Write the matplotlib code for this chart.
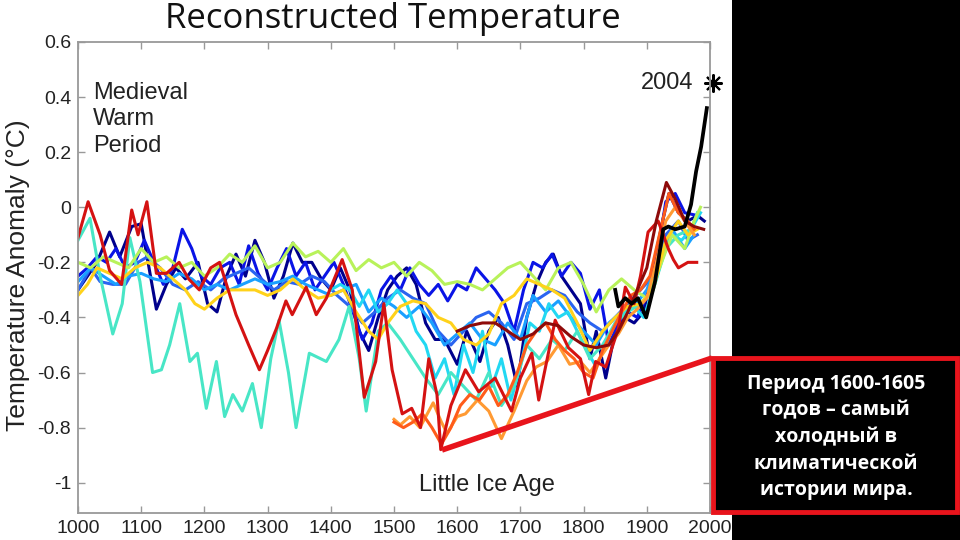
import matplotlib
matplotlib.use('Agg')
import matplotlib.pyplot as plt
from matplotlib.patches import Rectangle
from matplotlib.lines import Line2D

plt.rcParams['font.family'] = ['Liberation Sans', 'DejaVu Sans']

# --- reconstructions (year, anomaly in degC) ---
navy_yr = [1000, 1015, 1030, 1050, 1066, 1085, 1100, 1124, 1140, 1155, 1170, 1190, 1205, 1220,
           1235, 1250, 1265, 1280, 1295, 1310, 1325, 1340, 1355, 1370, 1385, 1400, 1415, 1430,
           1445, 1460, 1475, 1490, 1505, 1520, 1535, 1550, 1565, 1580, 1600, 1615, 1636, 1650,
           1665, 1680, 1695, 1710, 1725, 1740, 1752, 1765, 1780, 1795, 1810, 1820, 1835, 1850,
           1865, 1880, 1895, 1910, 1925, 1935, 1950, 1965, 1980, 1991]
navy_val = [-0.30, -0.25, -0.20, -0.09, -0.18, -0.07, -0.06, -0.37, -0.28, -0.22, -0.26, -0.20,
            -0.35, -0.38, -0.25, -0.17, -0.25, -0.12, -0.20, -0.33, -0.25, -0.13, -0.20, -0.20,
            -0.26, -0.30, -0.22, -0.30, -0.45, -0.52, -0.40, -0.30, -0.25, -0.22, -0.28, -0.42,
            -0.48, -0.48, -0.57, -0.45, -0.56, -0.45, -0.40, -0.50, -0.65, -0.40, -0.28, -0.20,
            -0.17, -0.25, -0.30, -0.35, -0.55, -0.45, -0.62, -0.45, -0.40, -0.42, -0.38, -0.22,
            -0.05, 0.05, -0.02, -0.05, -0.03, -0.05]

blue_yr = [1000, 1015, 1030, 1045, 1060, 1075, 1090, 1105, 1120, 1135, 1150, 1165, 1180, 1195,
           1210, 1225, 1240, 1255, 1270, 1285, 1300, 1315, 1330, 1345, 1360, 1375, 1390, 1405,
           1420, 1435, 1450, 1465, 1480, 1495, 1510, 1525, 1540, 1555, 1570, 1585, 1600, 1615,
           1630, 1645, 1660, 1675, 1690, 1705, 1720, 1735, 1750, 1765, 1780, 1795, 1810, 1825,
           1840, 1855, 1870, 1885, 1900, 1915, 1930, 1945, 1960, 1980]
blue_val = [-0.25, -0.22, -0.18, -0.20, -0.15, -0.22, -0.20, -0.12, -0.20, -0.28, -0.22, -0.08,
            -0.15, -0.25, -0.28, -0.22, -0.20, -0.28, -0.14, -0.24, -0.30, -0.22, -0.15, -0.25,
            -0.20, -0.30, -0.25, -0.20, -0.28, -0.38, -0.48, -0.42, -0.30, -0.25, -0.30, -0.22,
            -0.28, -0.32, -0.28, -0.34, -0.28, -0.30, -0.22, -0.26, -0.30, -0.35, -0.45, -0.30,
            -0.20, -0.22, -0.17, -0.25, -0.20, -0.24, -0.37, -0.30, -0.50, -0.42, -0.38, -0.40,
            -0.32, -0.20, 0.02, 0.05, -0.02, -0.03]

mid_yr = [1000, 1020, 1035, 1055, 1075, 1095, 1110, 1130, 1150, 1170, 1190, 1210, 1230, 1250,
          1270, 1290, 1310, 1330, 1350, 1370, 1390, 1410, 1430, 1450, 1470, 1490, 1510, 1530,
          1550, 1570, 1590, 1610, 1630, 1650, 1670, 1690, 1710, 1730, 1750, 1770, 1790, 1810,
          1830, 1850, 1870, 1890, 1910, 1930, 1950, 1965, 1980]
mid_val = [-0.30, -0.22, -0.27, -0.28, -0.28, -0.20, -0.18, -0.22, -0.28, -0.30, -0.27, -0.30,
           -0.26, -0.24, -0.22, -0.26, -0.30, -0.27, -0.28, -0.25, -0.27, -0.32, -0.36, -0.42,
           -0.38, -0.33, -0.30, -0.33, -0.35, -0.45, -0.50, -0.45, -0.40, -0.38, -0.42, -0.48,
           -0.35, -0.33, -0.30, -0.32, -0.38, -0.42, -0.45, -0.40, -0.35, -0.30, -0.25, -0.10,
           -0.05, -0.12, -0.10]

sky_yr = [1000, 1020, 1040, 1060, 1080, 1100, 1120, 1140, 1160, 1180, 1200, 1220, 1240, 1260,
          1280, 1300, 1320, 1340, 1360, 1380, 1400, 1420, 1440, 1460, 1480, 1500, 1520, 1540,
          1560, 1580, 1600, 1620, 1640, 1660, 1680, 1700, 1720, 1740, 1760, 1780, 1800, 1820,
          1840, 1860, 1880, 1900, 1920, 1940, 1960, 1975]
sky_val = [-0.27, -0.22, -0.25, -0.28, -0.25, -0.24, -0.26, -0.27, -0.24, -0.26, -0.30, -0.28,
           -0.30, -0.28, -0.26, -0.28, -0.27, -0.25, -0.28, -0.30, -0.32, -0.30, -0.28, -0.38,
           -0.33, -0.36, -0.40, -0.36, -0.42, -0.50, -0.46, -0.42, -0.48, -0.50, -0.42, -0.48,
           -0.32, -0.38, -0.34, -0.40, -0.45, -0.50, -0.42, -0.38, -0.36, -0.30, -0.18, -0.08,
           -0.15, -0.10]

cyan_yr = [1400, 1415, 1430, 1445, 1460, 1475, 1490, 1505, 1520, 1535, 1550, 1565, 1580, 1595,
           1610, 1625, 1640, 1655, 1670, 1685, 1700, 1715, 1730, 1745, 1760, 1775, 1790, 1805,
           1820, 1835, 1850, 1865, 1880, 1895, 1910, 1925, 1940, 1955, 1970, 1985]
cyan_val = [-0.30, -0.28, -0.30, -0.36, -0.30, -0.38, -0.35, -0.30, -0.35, -0.45, -0.50, -0.62,
            -0.55, -0.68, -0.50, -0.60, -0.45, -0.65, -0.55, -0.70, -0.58, -0.42, -0.45, -0.35,
            -0.40, -0.38, -0.45, -0.52, -0.58, -0.50, -0.42, -0.38, -0.36, -0.40, -0.30, -0.18,
            -0.10, -0.12, -0.08, -0.02]

turq_yr = [1000, 1019, 1035, 1055, 1070, 1082, 1098, 1118, 1132, 1145, 1161, 1177, 1189, 1203,
           1219, 1232, 1245, 1260, 1276, 1290, 1305, 1318, 1333, 1345, 1366, 1393, 1413, 1429,
           1445, 1456, 1475, 1490, 1510, 1530, 1550, 1570, 1590, 1610, 1630, 1650, 1670, 1690,
           1710, 1730, 1750, 1770, 1790, 1810, 1830, 1850, 1870, 1890, 1910, 1930, 1950, 1970,
           1980]
turq_val = [-0.12, -0.04, -0.25, -0.46, -0.35, -0.11, -0.27, -0.60, -0.59, -0.50, -0.35, -0.56,
            -0.53, -0.73, -0.56, -0.76, -0.68, -0.74, -0.64, -0.80, -0.55, -0.41, -0.60, -0.80,
            -0.53, -0.56, -0.48, -0.36, -0.55, -0.74, -0.45, -0.42, -0.48, -0.55, -0.62, -0.68,
            -0.60, -0.65, -0.70, -0.60, -0.72, -0.65, -0.50, -0.55, -0.48, -0.52, -0.45, -0.55,
            -0.50, -0.42, -0.38, -0.35, -0.30, -0.15, -0.10, -0.08, -0.02]

lime_yr = [1000, 1020, 1040, 1060, 1080, 1100, 1120, 1140, 1160, 1180, 1200, 1220, 1240, 1260,
           1280, 1300, 1320, 1340, 1360, 1380, 1400, 1420, 1440, 1460, 1480, 1500, 1520, 1540,
           1560, 1580, 1600, 1620, 1640, 1660, 1680, 1700, 1720, 1740, 1760, 1780, 1800, 1820,
           1840, 1860, 1880, 1900, 1920, 1940, 1960, 1975, 1985]
lime_val = [-0.20, -0.22, -0.18, -0.20, -0.22, -0.15, -0.20, -0.18, -0.22, -0.20, -0.25, -0.22,
            -0.17, -0.20, -0.14, -0.22, -0.20, -0.13, -0.18, -0.16, -0.20, -0.15, -0.23, -0.19,
            -0.22, -0.20, -0.25, -0.20, -0.23, -0.28, -0.27, -0.28, -0.30, -0.26, -0.22, -0.20,
            -0.25, -0.30, -0.22, -0.20, -0.28, -0.38, -0.30, -0.26, -0.30, -0.33, -0.22, -0.10,
            -0.15, -0.05, 0.00]

yellow_yr = [1000, 1015, 1030, 1050, 1070, 1090, 1110, 1130, 1150, 1170, 1185, 1200, 1220, 1240,
             1260, 1280, 1300, 1320, 1340, 1360, 1380, 1400, 1420, 1440, 1460, 1475, 1490, 1510,
             1530, 1550, 1570, 1590, 1610, 1630, 1650, 1670, 1690, 1710, 1730, 1750, 1770, 1790,
             1810, 1830, 1850, 1870, 1890, 1910, 1930, 1950, 1965, 1980]
yellow_val = [-0.32, -0.28, -0.22, -0.24, -0.26, -0.22, -0.20, -0.22, -0.26, -0.30, -0.35, -0.37,
              -0.33, -0.30, -0.30, -0.30, -0.32, -0.30, -0.26, -0.30, -0.33, -0.32, -0.30, -0.38,
              -0.45, -0.48, -0.42, -0.36, -0.34, -0.35, -0.40, -0.42, -0.48, -0.50, -0.46, -0.35,
              -0.32, -0.26, -0.28, -0.30, -0.33, -0.42, -0.52, -0.45, -0.40, -0.36, -0.35, -0.30,
              -0.12, -0.05, -0.10, -0.08]

orange_yr = [1500, 1510, 1525, 1541, 1562, 1575, 1584, 1600, 1613, 1632, 1650, 1670, 1690, 1710,
             1725, 1742, 1760, 1778, 1795, 1810, 1825, 1840, 1855, 1870, 1885, 1900, 1915, 1930,
             1945, 1960, 1975]
orange_val = [-0.77, -0.79, -0.76, -0.80, -0.71, -0.78, -0.82, -0.76, -0.75, -0.70, -0.74, -0.84,
              -0.74, -0.63, -0.58, -0.56, -0.50, -0.57, -0.56, -0.60, -0.55, -0.50, -0.46, -0.40,
              -0.37, -0.33, -0.20, -0.05, 0.00, -0.05, -0.10]

ored_yr = [1500, 1515, 1530, 1545, 1560, 1575, 1590, 1605, 1620, 1635, 1650, 1665, 1680, 1695,
           1710, 1725, 1740, 1755, 1770, 1785, 1800, 1815, 1830, 1845, 1860, 1875, 1890, 1905,
           1920, 1935, 1950, 1965, 1975]
ored_val = [-0.78, -0.80, -0.78, -0.75, -0.80, -0.86, -0.80, -0.72, -0.68, -0.70, -0.65, -0.72,
            -0.68, -0.60, -0.50, -0.45, -0.42, -0.48, -0.52, -0.55, -0.60, -0.62, -0.52, -0.45,
            -0.38, -0.32, -0.30, -0.25, -0.10, 0.05, -0.02, -0.05, -0.08]

red_yr = [1000, 1016, 1035, 1050, 1069, 1085, 1095, 1109, 1124, 1140, 1160, 1175, 1192, 1210,
          1224, 1250, 1270, 1287, 1300, 1314, 1329, 1339, 1361, 1377, 1393, 1418, 1434, 1453,
          1471, 1484, 1497, 1513, 1528, 1542, 1555, 1568, 1574, 1590, 1613, 1634, 1660, 1686,
          1700, 1718, 1729, 1755, 1776, 1795, 1808, 1819, 1835, 1855, 1866, 1880, 1890, 1902,
          1918, 1934, 1942, 1950, 1965, 1979]
red_val = [-0.11, 0.02, -0.10, -0.23, -0.28, -0.01, -0.10, 0.02, -0.24, -0.24, -0.20, -0.26,
           -0.30, -0.22, -0.20, -0.39, -0.50, -0.59, -0.52, -0.44, -0.34, -0.39, -0.29, -0.39,
           -0.33, -0.19, -0.30, -0.69, -0.56, -0.35, -0.59, -0.75, -0.73, -0.80, -0.55, -0.68,
           -0.88, -0.72, -0.59, -0.67, -0.62, -0.74, -0.62, -0.53, -0.70, -0.41, -0.51, -0.55,
           -0.68, -0.56, -0.58, -0.44, -0.29, -0.35, -0.25, -0.09, -0.05, -0.15, -0.19, -0.22,
           -0.20, -0.20]

dred_yr = [1600, 1620, 1640, 1660, 1680, 1700, 1720, 1740, 1760, 1780, 1800, 1820, 1840, 1855,
           1870, 1885, 1900, 1915, 1931, 1945, 1960, 1975, 1990]
dred_val = [-0.45, -0.43, -0.42, -0.42, -0.45, -0.48, -0.46, -0.42, -0.43, -0.47, -0.50, -0.51,
            -0.50, -0.45, -0.38, -0.30, -0.22, -0.05, 0.09, 0.03, -0.05, -0.07, -0.08]

# instrumental record
inst_yr = [1850, 1855, 1866, 1876, 1886, 1899, 1913, 1926, 1934, 1945, 1960, 1970, 1978, 1986,
           1995]
inst_val = [-0.30, -0.36, -0.33, -0.35, -0.33, -0.40, -0.27, -0.08, -0.07, -0.08, -0.07, 0.01,
            0.13, 0.22, 0.36]

series = [
    (navy_yr, navy_val, '#00008c'),
    (blue_yr, blue_val, '#0a14e6'),
    (mid_yr, mid_val, '#2a64f0'),
    (sky_yr, sky_val, '#1aa0ff'),
    (cyan_yr, cyan_val, '#22d8f2'),
    (turq_yr, turq_val, '#48e6c6'),
    (lime_yr, lime_val, '#b8f25a'),
    (yellow_yr, yellow_val, '#ffd21a'),
    (orange_yr, orange_val, '#ff9a33'),
    (ored_yr, ored_val, '#ff5c1a'),
    (red_yr, red_val, '#d41212'),
    (dred_yr, dred_val, '#8e0a0a'),
    (inst_yr, inst_val, '#000000'),
]

fig = plt.figure(figsize=(9.6, 5.4), dpi=100)
fig.patch.set_facecolor('white')
ax = fig.add_axes([78 / 960, 1 - 513 / 540, (710 - 78) / 960, (513 - 42) / 540])

for yr, val, col in series:
    lw = 2.7 if col == '#000000' else 2.2
    ax.plot(yr, val, color=col, lw=lw, solid_joinstyle='round')

ax.plot([2004], [0.45], marker=(8, 2, 0), ms=13, mew=1.5, color='black', clip_on=False)
ax.annotate('2004', xy=(2004, 0.45), xytext=(-14, 0), textcoords='offset points',
            ha='right', va='center', fontsize=17, color='#222222', annotation_clip=False)

ax.set_xlim(1000, 2000)
ax.set_ylim(-1.11, 0.6)
ax.set_xticks(range(1000, 2001, 100))
ax.set_yticks([-1, -0.8, -0.6, -0.4, -0.2, 0, 0.2, 0.4, 0.6])
ax.set_yticklabels(['-1', '-0.8', '-0.6', '-0.4', '-0.2', '0', '0.2', '0.4', '0.6'])
ax.tick_params(direction='in', top=True, right=True, length=5, width=1,
               color='#999999', labelsize=14, labelcolor='#222222', pad=5)
for sp in ax.spines.values():
    sp.set_color('#999999')
    sp.set_linewidth(1.3)

ax.text(0.024, 0.915, 'Medieval\nWarm\nPeriod', transform=ax.transAxes, ha='left', va='top',
        fontsize=17, linespacing=1.25, color='#222222')
ax.text(1647, -1.01, 'Little Ice Age', ha='center', va='center', fontsize=17, color='#222222')

fig.text(18 / 960, 1 - 275 / 540, 'Temperature Anomaly (°C)', rotation=90,
         ha='center', va='center', fontsize=19, color='#222222')
fig.text(393 / 960, 1 - 19 / 540, 'Reconstructed Temperature', ha='center', va='center',
         fontsize=25, family=['Open Sans', 'DejaVu Sans'], color='#111111')

# dark side panel with the note
fig.add_artist(Rectangle((732 / 960, 0), 1 - 732 / 960, 1, transform=fig.transFigure,
                         facecolor='black', edgecolor='none', zorder=2))
fig.add_artist(Line2D([442 / 960, 712 / 960], [1 - 450 / 540, 1 - 358 / 540],
                      transform=fig.transFigure, color='#e8141c', lw=4, zorder=4,
                      solid_capstyle='butt'))
fig.add_artist(Rectangle((713 / 960, 1 - 512 / 540), (957 - 713) / 960, (512 - 358) / 540,
                         transform=fig.transFigure, facecolor='black', edgecolor='#e8141c',
                         lw=3.5, zorder=5))
fig.text(836 / 960, 1 - 437 / 540,
         'Период 1600-1605\nгодов – самый\nхолодный в\nклиматической\nистории мира.',
         ha='center', va='center', fontsize=14, fontweight='bold', linespacing=1.45,
         color='white', family=['Open Sans', 'DejaVu Sans'], zorder=6)

fig.savefig('out.png', dpi=100)
